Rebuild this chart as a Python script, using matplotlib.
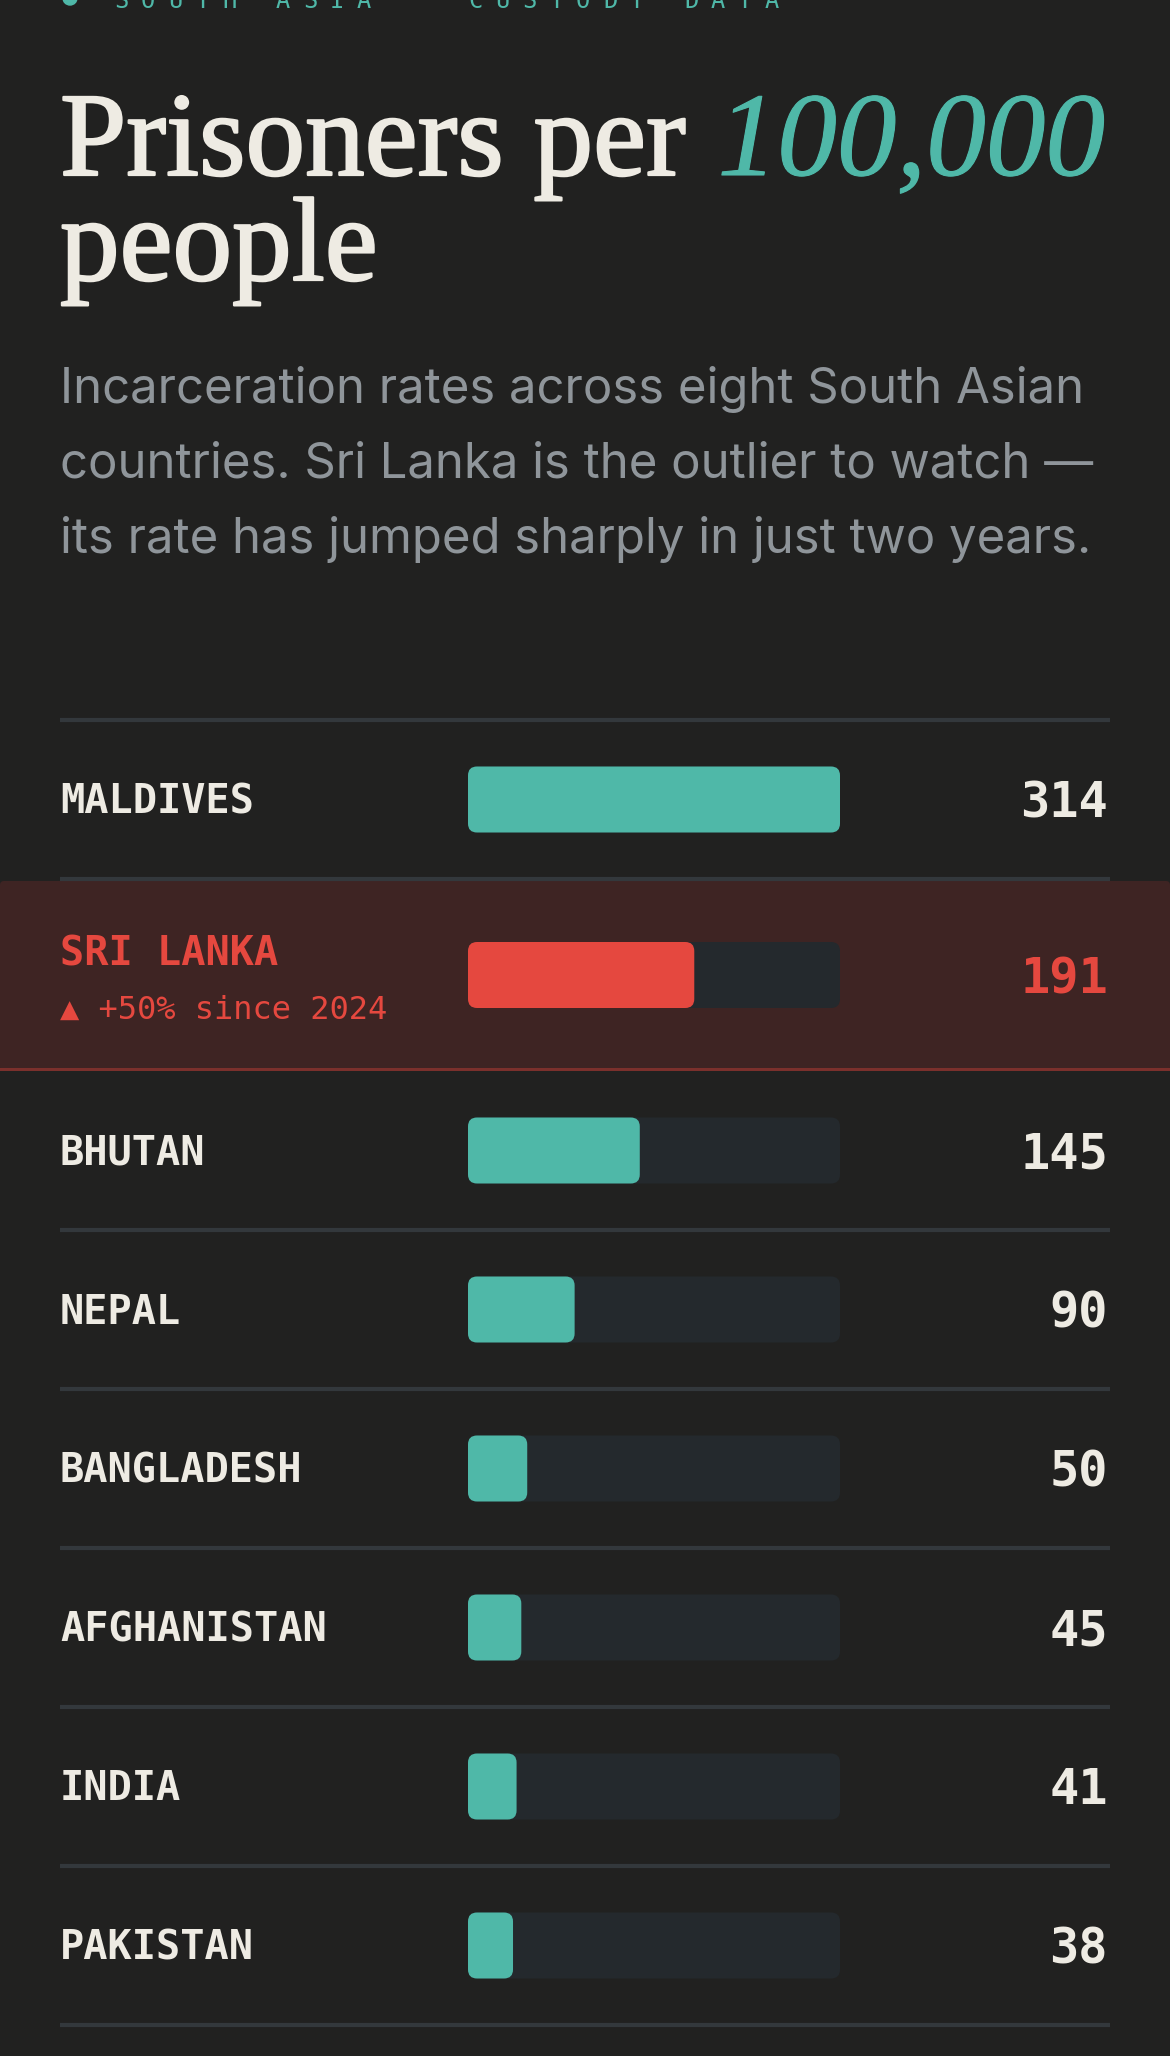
import matplotlib
matplotlib.use("Agg")
import matplotlib.pyplot as plt
import matplotlib.patheffects as pe
from matplotlib.patches import FancyBboxPatch, Rectangle, Circle

# data
countries = ["MALDIVES", "SRI LANKA", "BHUTAN", "NEPAL",
             "BANGLADESH", "AFGHANISTAN", "INDIA", "PAKISTAN"]
rates = [314, 191, 145, 90, 50, 45, 41, 38]
highlight = "SRI LANKA"
highlight_note = "▲ +50% since 2024"

kicker = ["SOUTH ASIA", "CUSTODY DATA"]
title_main = "Prisoners per"
title_accent = "100,000"
title_line2 = "people"
subtitle_lines = [
    "Incarceration rates across eight South Asian",
    "countries. Sri Lanka is the outlier to watch —",
    "its rate has jumped sharply in just two years.",
]

# colours
BG = "#212120"
CREAM = "#eeebe3"
TEAL = "#4fb8a8"
RED = "#e5483f"
TRACK = "#24292d"
RULE = "#33383c"
HL_BG = "#3e2423"
HL_RULE = "#7b302c"
GREY = "#8f959a"

W, H = 1170, 2056
fig = plt.figure(figsize=(W / 100, H / 100), dpi=100, facecolor=BG)
ax = fig.add_axes([0, 0, 1, 1])
ax.set_xlim(0, W)
ax.set_ylim(H, 0)
ax.axis("off")
r = fig.canvas.get_renderer()

# kicker (cut off at top, as in the original)
ax.add_patch(Circle((70, -2), 7, color=TEAL))
for start, word in zip([114, 468], kicker):
    for i, ch in enumerate(word):
        ax.text(start + i * 27, 8, ch, color=TEAL, fontsize=17,
                family="DejaVu Sans Mono", va="baseline")

# title
heavy = [pe.withStroke(linewidth=1.6, foreground=CREAM)]
heavy_t = [pe.withStroke(linewidth=0.8, foreground=TEAL)]
t1 = ax.text(60, 175, title_main, color=CREAM, fontsize=76,
             family="Liberation Serif", va="baseline", path_effects=heavy)
t2 = ax.text(0, 175, title_accent, color=TEAL, fontsize=76,
             family="Liberation Serif", style="italic", va="baseline",
             path_effects=heavy_t)
w1 = t1.get_window_extent(r).width
w2 = t2.get_window_extent(r).width
s = 76 * (1045 - 32) / (w1 + w2)
t1.set_fontsize(s)
t2.set_fontsize(s)
w1 = t1.get_window_extent(r).width
t2.set_x(60 + w1 + 32)
ax.text(60, 280, title_line2, color=CREAM, fontsize=s,
        family="Liberation Serif", va="baseline", path_effects=heavy)

# subtitle
sub = [ax.text(60, 403 + i * 75, line, color=GREY, fontsize=30,
               family="Inter", va="baseline")
       for i, line in enumerate(subtitle_lines)]
ws = sub[0].get_window_extent(r).width
for t in sub:
    t.set_fontsize(30 * 1026 / ws)

# bar axes: x in data units, y in pixels
bx = fig.add_axes([468 / W, 0, 372 / W, 1])
vmax = max(rates)
bx.set_xlim(0, vmax)
bx.set_ylim(H, 0)
bx.axis("off")
bx.patch.set_visible(False)
xpx = vmax / 372.0
rad = 9

row_h, hl_h = 159, 192
y = 720
prev_hl = False
for name, val in zip(countries, rates):
    is_hl = name == highlight
    h = hl_h if is_hl else row_h
    cy = y + h / 2
    if not prev_hl:
        ax.plot([60, 1110], [y, y], color=RULE, lw=3, solid_capstyle="butt")
    col = RED if is_hl else TEAL
    txt = RED if is_hl else CREAM
    if is_hl:
        ax.add_patch(FancyBboxPatch((0, y + 2), W, h - 2,
                                    boxstyle="round,pad=0,rounding_size=4",
                                    fc=HL_BG, ec="none", zorder=0))
        ax.add_patch(Rectangle((0, y + h - 3), W, 3, fc=HL_RULE, ec="none", zorder=1))
        ax.text(60, cy - 10, name, color=txt, fontsize=29, weight="bold",
                family="DejaVu Sans Mono", va="baseline")
        ax.text(60, cy + 44, highlight_note, color=RED, fontsize=23,
                family="DejaVu Sans Mono", va="baseline")
        vy = cy + 19
    else:
        ax.text(60, cy + 14, name, color=txt, fontsize=29, weight="bold",
                family="DejaVu Sans Mono", va="baseline")
        vy = cy + 18
    ax.text(1108, vy, str(val), color=txt, fontsize=35, weight="bold",
            family="DejaVu Sans Mono", ha="right", va="baseline")
    bx.add_patch(FancyBboxPatch((0, cy - 33), vmax, 66,
                                boxstyle=f"round,pad=0,rounding_size={rad * xpx}",
                                mutation_aspect=1 / xpx, fc=TRACK, ec="none"))
    bx.add_patch(FancyBboxPatch((0, cy - 33), val, 66,
                                boxstyle=f"round,pad=0,rounding_size={rad * xpx}",
                                mutation_aspect=1 / xpx, fc=col, ec="none"))
    prev_hl = is_hl
    y += h
ax.plot([60, 1110], [y, y], color=RULE, lw=3, solid_capstyle="butt")

fig.savefig("out.png", dpi=100, facecolor=BG)
